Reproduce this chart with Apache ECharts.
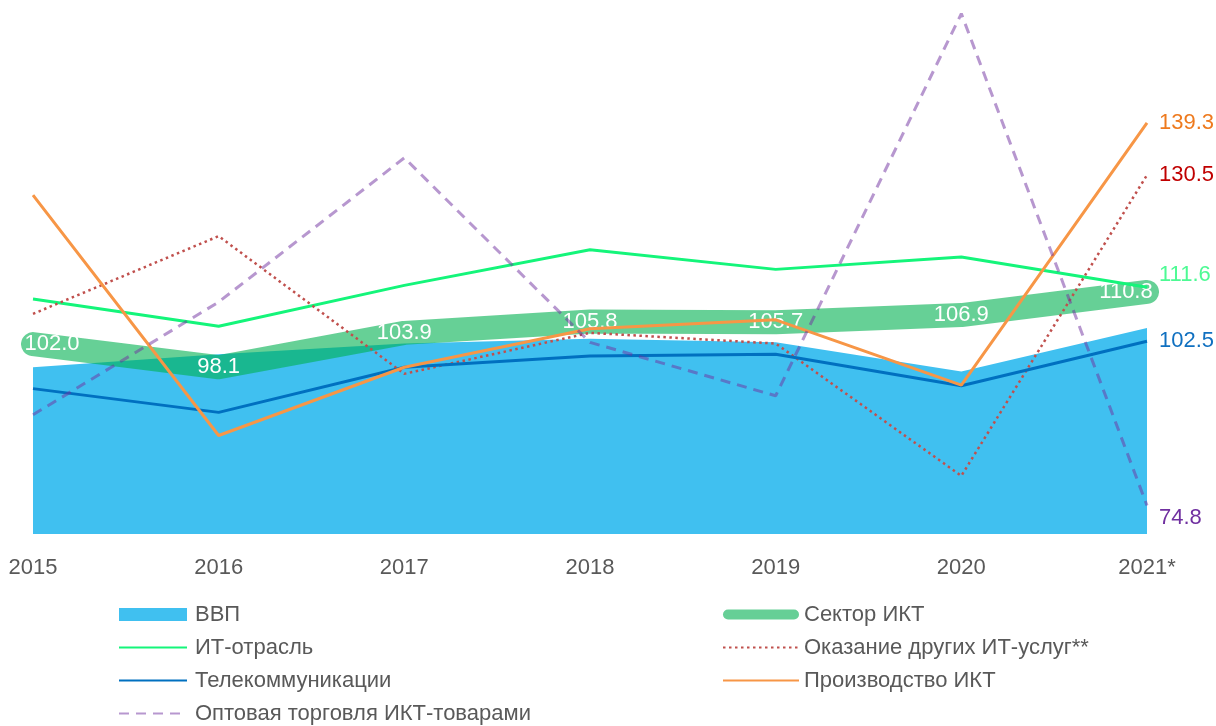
<!DOCTYPE html>
<html>
<head>
<meta charset="utf-8">
<script src="https://cdn.jsdelivr.net/npm/echarts@6/dist/echarts.min.js"></script>
<style>
  html, body { margin: 0; padding: 0; background: #fff; }
  #chart { width: 1216px; height: 726px; }
</style>
</head>
<body>
<div id="chart"></div>
<script>
  var years = ['2015', '2016', '2017', '2018', '2019', '2020', '2021*']

  // значения (индекс к предыдущему году, %)
  var gdp = [98.1, 100.3, 102.1, 102.9, 102.3, 97.4, 104.7]
  var ictSector = [102.0, 98.1, 103.9, 105.8, 105.7, 106.9, 110.8]
  var itIndustry = [109.6, 105.0, 111.9, 117.9, 114.6, 116.7, 111.6]
  var otherIt = [107.1, 120.2, 97.0, 103.9, 102.1, 79.8, 130.5]
  var telecom = [94.5, 90.5, 98.1, 100.0, 100.3, 95.0, 102.5]
  var ictProduction = [127.1, 86.6, 98.1, 104.6, 106.1, 95.1, 139.3]
  var wholesale = [90.1, 109.1, 133.4, 102.3, 93.3, 157.7, 74.8]

  var font = '"Liberation Sans", Arial, sans-serif'
  var fmt = function (p) { return Number(p.value).toFixed(1) }

  // подпись у последней точки линии
  function endLabel(color, offset) {
    return {
      show: true,
      formatter: fmt,
      distance: 12,
      color: color,
      fontSize: 22,
      fontFamily: font,
      offset: offset || [0, 0]
    }
  }

  var ictData = ictSector.map(function (v, i) {
    if (i === 0) return { value: v, label: { offset: [19, 0] } }
    if (i === ictSector.length - 1) return { value: v, label: { offset: [-21, 0] } }
    return v
  })

  var legendText = { color: '#595959', fontSize: 22, lineHeight: 25, fontFamily: font }
  var noDot = { opacity: 0 } // у линий в легенде без кружков

  var myChart = echarts.init(document.getElementById('chart'))
  var option = {
    animation: false,
    textStyle: { fontFamily: font },
    grid: {
      left: 33,
      right: 69,
      top: 0,
      bottom: 192,
      outerBoundsMode: 'none'
    },
    legend: [
      {
        left: 118,
        top: 602,
        height: 140,
        padding: 0,
        orient: 'vertical',
        itemWidth: 68,
        itemHeight: 13,
        itemGap: 8,
        selectedMode: false,
        textStyle: Object.assign({ padding: [0, 0, 0, 3] }, legendText),
        data: [
          { name: 'ВВП', icon: 'rect', itemStyle: { color: '#40C0F0', opacity: 1 } },
          { name: 'ИТ-отрасль', itemStyle: noDot },
          { name: 'Телекоммуникации', itemStyle: noDot },
          { name: 'Оптовая торговля ИКТ-товарами', itemStyle: noDot }
        ]
      },
      {
        left: 722,
        top: 602,
        height: 140,
        padding: 0,
        orient: 'vertical',
        itemWidth: 76,
        itemHeight: 13,
        itemGap: 8,
        selectedMode: false,
        textStyle: legendText,
        data: [
          {
            name: 'Сектор ИКТ',
            icon: 'path://M5,0 L71,0 A5,5 0 0 1 71,10 L5,10 A5,5 0 0 1 5,0 Z',
            itemStyle: { color: '#66CF96', opacity: 1 }
          },
          { name: 'Оказание других ИТ-услуг**', itemStyle: noDot },
          { name: 'Производство ИКТ', itemStyle: noDot }
        ]
      }
    ],
    xAxis: {
      type: 'category',
      data: years,
      boundaryGap: false,
      axisLine: { show: false },
      axisTick: { show: false },
      axisLabel: { color: '#595959', fontSize: 22, margin: 23, fontFamily: font }
    },
    yAxis: {
      type: 'value',
      min: 70,
      max: 160,
      show: false,
      splitLine: { show: false }
    },
    series: [
      {
        name: 'ВВП',
        type: 'line',
        data: gdp,
        color: '#40C0F0',
        symbol: 'none',
        lineStyle: { width: 0 },
        areaStyle: { color: '#40C0F0', opacity: 1 },
        z: 1
      },
      {
        name: 'Сектор ИКТ',
        type: 'line',
        data: ictData,
        color: '#00B050',
        symbol: 'circle',
        symbolSize: 2,
        showSymbol: true,
        itemStyle: { color: 'rgba(0,0,0,0)' },
        lineStyle: { width: 24, color: '#00B050', opacity: 0.6, cap: 'round', join: 'round' },
        label: { show: true, position: 'inside', color: '#fff', fontSize: 22, fontFamily: font, formatter: fmt },
        z: 2
      },
      {
        name: 'ИТ-отрасль',
        type: 'line',
        data: itIndustry,
        color: '#14F57A',
        symbol: 'none',
        lineStyle: { width: 3, color: '#14F57A' },
        endLabel: endLabel('#4DFA94', [0, -12]),
        z: 3
      },
      {
        name: 'Оказание других ИТ-услуг**',
        type: 'line',
        data: otherIt,
        color: '#C0504D',
        symbol: 'none',
        lineStyle: { width: 2.5, color: '#C0504D', type: [2.5, 3.5] },
        endLabel: endLabel('#C00000'),
        z: 3
      },
      {
        name: 'Телекоммуникации',
        type: 'line',
        data: telecom,
        color: '#0070C0',
        symbol: 'none',
        lineStyle: { width: 3, color: '#0070C0' },
        endLabel: endLabel('#1070C0'),
        z: 3
      },
      {
        name: 'Производство ИКТ',
        type: 'line',
        data: ictProduction,
        color: '#F79646',
        symbol: 'none',
        lineStyle: { width: 3, color: '#F79646' },
        endLabel: endLabel('#EE7A1E'),
        z: 3
      },
      {
        name: 'Оптовая торговля ИКТ-товарами',
        type: 'line',
        data: wholesale,
        color: '#B090D8',
        symbol: 'none',
        lineStyle: { width: 3, color: '#7030A0', opacity: 0.5, type: [10, 7] },
        endLabel: endLabel('#7030A0', [0, 12]),
        z: 3
      }
    ]
  }
  myChart.setOption(option)
</script>
</body>
</html>
